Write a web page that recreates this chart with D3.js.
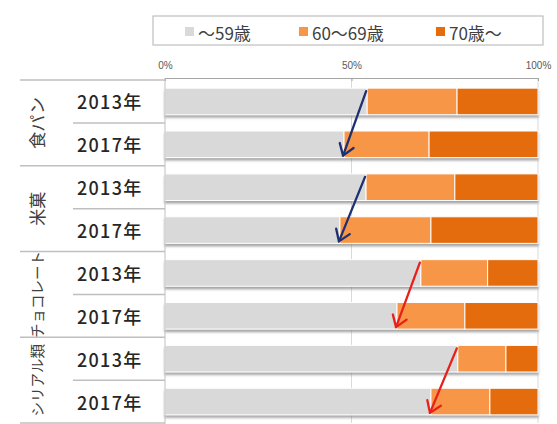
<!DOCTYPE html>
<html><head><meta charset="utf-8">
<script src="https://cdn.jsdelivr.net/npm/d3@7"></script>
<style>body{margin:0;background:#fff;} svg{display:block;font-family:"Noto Sans CJK JP","Noto Sans",sans-serif;}</style>
</head><body>
<svg id="c" width="557" height="424"></svg>
<script>
const categories = ["食パン", "米菓", "チョコレート", "シリアル類"];
const years = ["2013年", "2017年"];
const seriesNames = ["～59歳", "60～69歳", "70歳～"];
const under59 = [54.2, 48.0, 53.9, 46.9, 68.6, 62.2, 78.5, 71.3];
const age60s  = [24.1, 22.8, 23.8, 24.4, 17.9, 18.2, 12.9, 15.8];
const age70p  = [21.7, 29.2, 22.3, 28.7, 13.5, 19.6, 8.6, 12.9];
const tickValues = [0, 50, 100];
const colors = ["#d9d9d9", "#f79646", "#e46c0a"];
const arrowColors = ["#1f3070", "#1f3070", "#e8201c", "#e8201c"];

const rows = [];
categories.forEach((c, i) => years.forEach((y, j) => {
  const k = i * 2 + j;
  rows.push({key: c + y, cat: c, year: y, vals: [under59[k], age60s[k], age70p[k]]});
}));
rows.forEach(r => { let acc = 0; r.segs = r.vals.map((v, s) => { const o = {s, x0: acc, x1: acc + v}; acc += v; return o; }); });

const svg = d3.select("#c");
const x = d3.scaleLinear().domain([0, 100]).range([165, 538]);
const y = d3.scaleBand().domain(rows.map(r => r.key)).range([80, 423]).paddingInner(0.38).paddingOuter(0.19);
const txt = "#404040";

// drop shadow
const defs = svg.append("defs");
const f = defs.append("filter").attr("id", "sh").attr("x", "-5%").attr("y", "-20%").attr("width", "110%").attr("height", "160%");
f.append("feDropShadow").attr("dx", 0).attr("dy", 2.5).attr("stdDeviation", 1.2).attr("flood-color", "#7f7f7f").attr("flood-opacity", 0.7);

// gridlines
svg.append("g").selectAll("line").data(tickValues.slice(1)).join("line")
  .attr("x1", d => x(d)).attr("x2", d => x(d)).attr("y1", 78).attr("y2", 423)
  .attr("stroke", "#d9d9d9").attr("stroke-width", 1);

// top axis
const ax = svg.append("g").attr("transform", "translate(0,78)")
  .call(d3.axisTop(x).tickValues(tickValues).tickFormat(d => d + "%").tickSize(-3).tickPadding(9));
ax.select(".domain").attr("stroke", "#a6a6a6");
ax.selectAll(".tick line").attr("stroke", "#a6a6a6");
ax.selectAll("text").attr("fill", "#595959").attr("font-size", 10).attr("font-family", "Liberation Sans, sans-serif");

// bars
const g = svg.append("g").selectAll("g").data(rows).join("g").attr("filter", "url(#sh)");
g.selectAll("rect").data(d => d.segs.map(s => ({...s, key: d.key}))).join("rect")
  .attr("x", d => x(d.x0)).attr("width", d => x(d.x1) - x(d.x0))
  .attr("y", d => y(d.key)).attr("height", y.bandwidth())
  .attr("fill", d => colors[d.s]).attr("stroke", "#fff").attr("stroke-width", 1);

// left table lines
svg.append("line").attr("x1", 165).attr("x2", 165).attr("y1", 78).attr("y2", 424).attr("stroke", "#bfbfbf");
const step = y.step();
categories.forEach((c, i) => {
  const top = y(rows[i * 2].key) - (step - y.bandwidth()) / 2;
  const mid = top + step;
  svg.append("line").attr("x1", 20).attr("x2", 165).attr("y1", top).attr("y2", top).attr("stroke", "#bfbfbf").attr("stroke-width", 1.5);
  svg.append("line").attr("x1", 73).attr("x2", 165).attr("y1", mid).attr("y2", mid).attr("stroke", "#bfbfbf").attr("stroke-width", 1.5);
  svg.append("text").attr("transform", `translate(36,${mid}) rotate(-90)`)
    .attr("text-anchor", "middle").attr("dominant-baseline", "central")
    .attr("font-size", c.length > 4 ? 14.5 : 17).attr("fill", txt).text(c);
});
svg.append("line").attr("x1", 20).attr("x2", 165).attr("y1", 423).attr("y2", 423).attr("stroke", "#bfbfbf").attr("stroke-width", 1.5);

// year labels
svg.append("g").selectAll("text").data(rows).join("text")
  .attr("x", 77).attr("y", d => y(d.key) + y.bandwidth() / 2)
  .attr("dominant-baseline", "central").attr("font-size", 18).attr("font-weight", 500)
  .attr("letter-spacing", 1.3)
  .attr("fill", "#262626").text(d => d.year);

// arrows
categories.forEach((c, i) => {
  const a = rows[i * 2], b = rows[i * 2 + 1];
  const x1 = x(a.vals[0]) - 1, y1 = y(a.key) + 3;
  const x2 = x(b.vals[0]) - 1, y2 = y(b.key) + y.bandwidth() - 2;
  const col = arrowColors[i];
  svg.append("line").attr("x1", x1).attr("y1", y1).attr("x2", x2).attr("y2", y2)
    .attr("stroke", col).attr("stroke-width", 2.3).attr("stroke-linecap", "round");
  const ang = Math.atan2(y2 - y1, x2 - x1);
  const L = 13, sp = 0.6;
  const p = (a2) => [x2 - L * Math.cos(ang + a2), y2 - L * Math.sin(ang + a2)];
  const h1 = p(sp), h2 = p(-sp);
  svg.append("path").attr("d", `M${h1[0]},${h1[1]} L${x2},${y2} L${h2[0]},${h2[1]}`)
    .attr("fill", "none").attr("stroke", col).attr("stroke-width", 2.3).attr("stroke-linecap", "round").attr("stroke-linejoin", "round");
});

// legend
svg.append("rect").attr("x", 153).attr("y", 16).attr("width", 390).attr("height", 29)
  .attr("fill", "#fff").attr("stroke", "#bfbfbf").attr("stroke-width", 1.2);
const legX = [185, 299, 436];
seriesNames.forEach((n, i) => {
  svg.append("rect").attr("x", legX[i]).attr("y", 27).attr("width", 9).attr("height", 9).attr("fill", colors[i]);
  svg.append("text").attr("x", legX[i] + 13).attr("y", 32).attr("dominant-baseline", "central")
    .attr("font-size", 17).attr("fill", txt).text(n);
});
</script>
</body></html>
